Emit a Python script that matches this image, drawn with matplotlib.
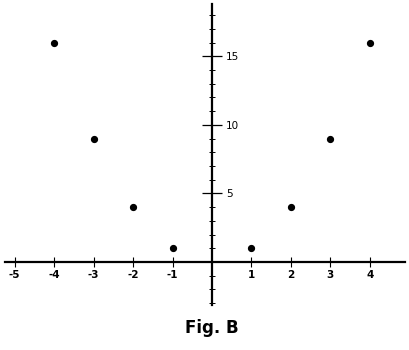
import matplotlib.pyplot as plt
import numpy as np
from matplotlib.ticker import MultipleLocator, FixedLocator

# donnees
x_vals = [-4, -3, -2, -1, 1, 2, 3, 4]
y_vals = [16, 9, 4, 1, 1, 4, 9, 16]
x_ticks = [-5, -4, -3, -2, -1, 1, 2, 3, 4]
y_ticks = [5, 10, 15]

fig = plt.figure(figsize=(4.09, 3.5), dpi=100)
ax = fig.add_axes([0, 40 / 350, 1, 310 / 350])

ax.plot(x_vals, y_vals, 'o', color='black', markersize=4.2)

ax.set_xlim(-5.37, 4.99)
ax.set_ylim(-3.5, 19.1)

for s in ['top', 'left']:
    ax.spines[s].set_visible(False)
ax.spines['bottom'].set_position('zero')
ax.spines['right'].set_position('zero')
ax.spines['bottom'].set_bounds(-5.25, 4.9)
ax.spines['right'].set_bounds(-3.1, 18.8)
ax.spines['bottom'].set_linewidth(1.6)
ax.spines['right'].set_linewidth(1.6)

ax.yaxis.set_ticks_position('right')
ax.xaxis.set_ticks_position('bottom')

ax.xaxis.set_major_locator(FixedLocator(x_ticks))
ax.set_xticklabels([str(t) for t in x_ticks], fontsize=7.5, fontweight='bold')
ax.yaxis.set_major_locator(FixedLocator(y_ticks))
ax.set_yticklabels([str(t) for t in y_ticks], fontsize=7.5)
ax.yaxis.set_minor_locator(FixedLocator([v for v in range(-3, 19) if v not in (0, 5, 10, 15)]))

ax.tick_params(axis='x', direction='inout', length=7, width=0.8, pad=2)
ax.tick_params(axis='y', which='major', direction='inout', length=14, width=0.9, pad=3)
ax.tick_params(axis='y', which='minor', direction='inout', length=5, width=0.7)

fig.text(212 / 409, 1 - 328 / 350, 'Fig. B', ha='center', va='center',
         fontsize=12, fontweight='bold')

plt.savefig('out.png', dpi=100)
